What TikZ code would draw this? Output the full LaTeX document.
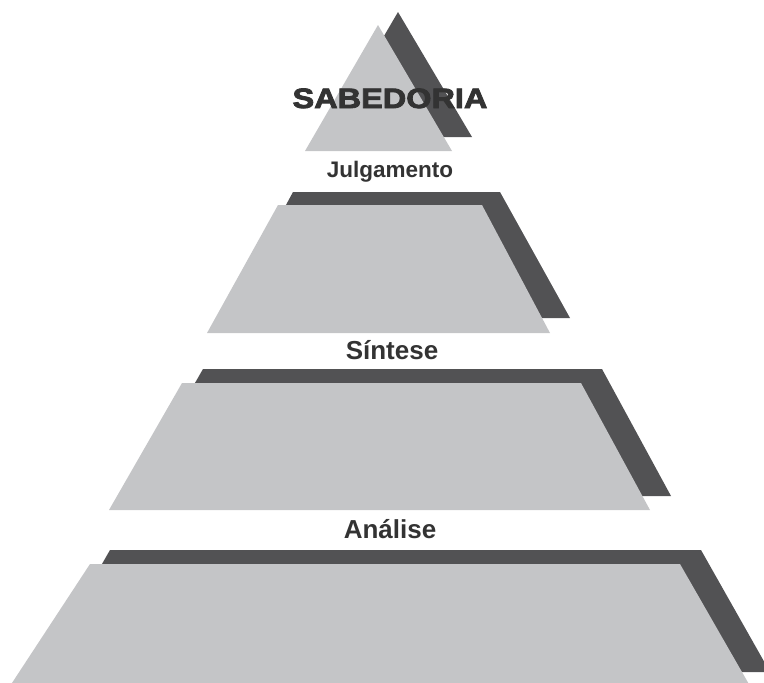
\documentclass[tikz,border=0pt]{standalone}
\usepackage{fontspec}
\setmainfont{Liberation Sans}
\newfontfamily\heavyfont[FakeStretch=1.16,BoldFeatures={FakeBold=3}]{Liberation Sans}
\definecolor{darkgrey}{HTML}{525254}
\definecolor{lightgrey}{HTML}{C4C5C7}
\definecolor{textgrey}{HTML}{333333}
\begin{document}
\begin{tikzpicture}[x=1pt,y=-1pt,
  darkpart/.style={fill=darkgrey},
  lightpart/.style={fill=lightgrey},
  level/.style={font=\bfseries\fontsize{26}{26}\selectfont,text=textgrey,anchor=base,inner sep=0pt}]
\useasboundingbox (0,0) rectangle (764,683);
\begin{scope}
\clip (0,0) rectangle (764,683);
% top
\fill[darkpart]  (398,12) -- (472,137) -- (325,137) -- cycle;
\fill[lightpart] (378,25) -- (452,151) -- (305,151) -- cycle;
% first layer
\fill[darkpart]  (293,192) -- (500,192) -- (570,318) -- (225,318) -- cycle;
\fill[lightpart] (278,205) -- (482,205) -- (550,333) -- (207,333) -- cycle;
% second layer
\fill[darkpart]  (203,369) -- (602,369) -- (671,496) -- (130,496) -- cycle;
\fill[lightpart] (182,383) -- (581,383) -- (650,510) -- (109,510) -- cycle;
% base
\fill[darkpart]  (110,550) -- (701,550) -- (770,672) -- (40,672) -- cycle;
\fill[lightpart] (90,564) -- (680,564) -- (750,686) -- (10,686) -- cycle;
\end{scope}

\node[level,font=\heavyfont\bfseries\fontsize{28}{28}\selectfont] (sab) at (390,108) {SABEDORIA};
\node[level,font=\bfseries\fontsize{22.5}{22.5}\selectfont] (julg) at (390,177) {Julgamento};
\node[level] (sint) at (392,359) {Síntese};
\node[level] (anal) at (390,538) {Análise};
\end{tikzpicture}
\end{document}
